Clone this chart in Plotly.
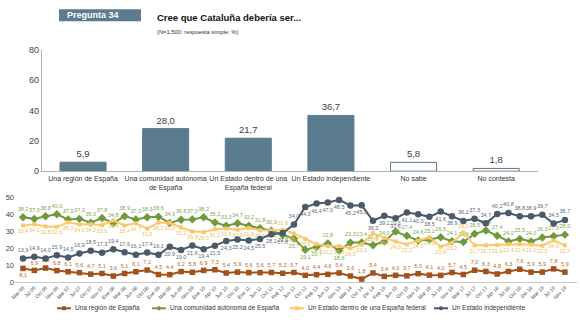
import plotly.graph_objects as go

# ---- Bar chart: current wave ----
bar_categories = [
    "Una región de España",
    "Una comunidad autónoma<br>de España",
    "Un Estado dentro de una<br>España federal",
    "Un Estado independiente",
    "No sabe",
    "No contesta",
]
bar_values = [5.9, 28.0, 21.7, 36.7, 5.8, 1.8]

# ---- Line chart: historical series ----
waves = [
    "Mar 06", "Jul 06", "Oct 06", "Nov 06", "Mar 07", "Jul 07", "Oct 07", "Nov 07",
    "Ene 08", "Mar 08", "Jun 08", "Oct 08", "Ene 09", "Mar 09", "Jun 09", "Nov 09",
    "Ene 10", "Abr 10", "Jun 10", "Oct 10", "Ene 11", "Jun 11", "Oct 11", "Feb 12",
    "Jun 12", "Oct 12", "Feb 13", "Jun 13", "Nov 13", "Mar 14", "Oct 14", "Dic 14",
    "Feb 15", "Jun 15", "Oct 15", "Nov 15", "Mar 16", "Jul 16", "Nov 16", "Mar 17",
    "Jul 17", "Oct 17", "Abr 18", "Jul 18", "Oct 18", "Dic 18", "Mar 19", "Jul 19",
    "Nov 19",
]
region = [8.1, 6.9, 8.3, 6.8, 6.1, 5.6, 4.7, 5.1, 3.6, 5.1, 6.1, 7.1, 4.5, 4.4, 6.2,
          5.8, 6.9, 7.3, 5.4, 5.9, 5.6, 5.6, 5.7, 5.2, 5.7, 4.0, 4.4, 4.6, 5.4, 3.6,
          1.8, 5.4, 3.4, 4.0, 3.7, 5.0, 4.1, 4.0, 5.7, 4.5, 7.0, 6.3, 4.8, 6.3, 7.6,
          5.9, 5.9, 7.8, 5.9]
autonomia = [38.2, 37.3, 38.8, 40.0, 37.0, 37.3, 35.0, 37.8, 34.8, 38.9, 37.0, 38.3,
             38.6, 34.9, 36.8, 37.0, 38.2, 35.2, 33.3, 34.7, 33.2, 31.8, 30.3, 27.8,
             25.7, 19.1, 20.7, 22.8, 18.6, 23.3, 23.4, 21.8, 24.0, 29.8, 27.4, 24.6,
             25.1, 26.5, 24.1, 23.6, 28.5, 30.4, 27.4, 24.0, 25.5, 24.0, 26.3, 27.0,
             28.0]
federal = [33.4, 34.1, 32.8, 32.6, 35.3, 34.0, 34.2, 33.6, 36.4, 33.4, 34.7, 31.6,
           35.2, 35.0, 32.2, 29.9, 29.5, 31.2, 31.6, 30.9, 31.9, 30.6, 30.4, 30.8,
           28.7, 25.5, 22.4, 21.2, 21.3, 20.0, 22.2, 28.9, 26.1, 24.0, 22.2, 24.5,
           26.3, 20.9, 23.2, 29.2, 21.7, 21.7, 21.9, 22.4, 22.4, 22.1, 21.5, 24.6,
           21.7]
independiente = [13.9, 14.9, 14.0, 15.9, 14.5, 16.9, 18.5, 17.3, 19.4, 17.6, 16.1,
                 17.4, 16.1, 20.9, 19.0, 21.6, 19.4, 21.5, 24.3, 25.2, 24.5, 25.5,
                 28.2, 29.0, 34.0, 44.3, 46.4, 47.0, 48.5, 45.2, 45.3, 36.2, 39.1,
                 37.6, 41.1, 40.0, 38.5, 41.6, 38.9, 36.1, 37.3, 34.7, 40.2, 40.8,
                 38.8, 38.9, 39.7, 34.5, 36.7]

FONT = "Liberation Sans, Arial, sans-serif"
SLATE = "#5b7b8e"
C_REG, C_AUT, C_FED, C_IND = "#a3501a", "#6f9a3b", "#fbc76a", "#4b5a6b"
T_REG, T_AUT, T_FED, T_IND = "#b8682f", "#7ea84e", "#f5bd55", "#5a6878"


def fmt(v):
    return f"{v:.1f}".replace(".", ",")


def positions(n, below):
    return ["bottom center" if i in below else "top center" for i in range(n)]


n = len(waves)
x_idx = list(range(n))

fig = go.Figure()

# bars
fig.add_trace(go.Bar(
    x=bar_categories, y=bar_values,
    text=[fmt(v) for v in bar_values], textposition="outside",
    textfont=dict(size=9.5, color="#404040", family=FONT),
    marker=dict(color=[SLATE] * 4 + ["white"] * 2,
                line=dict(color=SLATE, width=1)),
    width=0.557, cliponaxis=False, showlegend=False,
    xaxis="x", yaxis="y",
))

series = [
    ("Una región de España", region, C_REG, T_REG, "square", 5.5, {0}),
    ("Una comunidad autónoma de España", autonomia, C_AUT, T_AUT, "diamond", 6.5,
     {23, 24, 25, 26, 28}),
    ("Un Estado dentro de una España federal", federal, C_FED, T_FED, "square", 4,
     set(range(n)) - {23, 39}),
    ("Un Estado independiente", independiente, C_IND, T_IND, "circle", 6.5,
     set(range(13, 24)) | set(range(25, 39))),
]
for name, vals, col, tcol, sym, msize, below in series:
    fig.add_trace(go.Scatter(
        x=x_idx, y=vals, name=name, mode="lines+markers+text",
        line=dict(color=col, width=2),
        marker=dict(symbol=sym, size=msize, color=col),
        text=[fmt(v) for v in vals],
        textposition=positions(n, below),
        textfont=dict(size=5.5, color=tcol, family=FONT),
        cliponaxis=False, showlegend=False,
        xaxis="x2", yaxis="y2",
    ))

W, H = 580, 322


def px(x):
    return x / W


def py(y):
    return 1 - y / H


fig.update_layout(
    width=W, height=H, margin=dict(l=0, r=0, t=0, b=0),
    paper_bgcolor="white", plot_bgcolor="white",
    font=dict(family=FONT, color="#333333"),
    separators=",.",
    xaxis=dict(domain=[px(41.7), px(537.5)], range=[-0.5, 5.5],
               showline=True, linecolor="#b0b0b0", linewidth=1, ticks="",
               tickangle=0, automargin=False,
               tickfont=dict(size=7, color="#333333"), showgrid=False),
    yaxis=dict(domain=[py(171.5), py(46)], range=[0, 80], dtick=20,
               showline=True, linecolor="#b0b0b0", linewidth=1, showgrid=False,
               zeroline=False, tickfont=dict(size=9, color="#444444")),
    xaxis2=dict(domain=[px(15), px(577)], range=[-0.709, 49.07],
                tickmode="array", tickvals=x_idx, ticktext=waves, tickangle=-45,
                tickfont=dict(size=5, color="#444444"), automargin=False,
                showline=True, linecolor="#c8c8c8", linewidth=1, showgrid=False,
                ticks="", anchor="y2"),
    yaxis2=dict(domain=[py(286), py(198.5)], range=[0, 50], dtick=10,
                showgrid=False, zeroline=False, showline=False,
                tickfont=dict(size=7.5, color="#444444"), anchor="x2"),
    bargap=0.443,
)

# header
fig.add_shape(type="rect", xref="paper", yref="paper",
              x0=px(59), x1=px(141), y0=py(16.7), y1=py(4.3),
              fillcolor=SLATE, line=dict(width=0))
fig.add_annotation(text="<b>Pregunta 34</b>", xref="paper", yref="paper",
                   x=px(65), y=py(10.5), xanchor="left", yanchor="middle",
                   showarrow=False, font=dict(size=9, color="white", family=FONT))
fig.add_annotation(text="<b>Cree que Cataluña debería ser...</b>", xref="paper",
                   yref="paper", x=px(155), y=py(12.5), xanchor="left",
                   yanchor="middle", showarrow=False,
                   font=dict(size=9.5, color="#111111", family=FONT))
fig.add_annotation(text="(N=1.500; respuesta simple; %)", xref="paper",
                   yref="paper", x=px(155), y=py(28), xanchor="left",
                   yanchor="middle", showarrow=False,
                   font=dict(size=5.8, color="#333333", family=FONT))

# legend
legend_items = [
    (57, "Una región de España", C_REG, "square"),
    (152, "Una comunidad autónoma de España", C_AUT, "diamond"),
    (290, "Un Estado dentro de una España federal", C_FED, "square"),
    (434, "Un Estado independiente", C_IND, "circle"),
]
ly = 313
for x0, label, col, sym in legend_items:
    fig.add_shape(type="line", xref="paper", yref="paper",
                  x0=px(x0), x1=px(x0 + 14), y0=py(ly), y1=py(ly),
                  line=dict(color=col, width=2))
    cx = x0 + 7
    r = 2
    if sym == "circle":
        fig.add_shape(type="circle", xref="paper", yref="paper",
                      x0=px(cx - r), x1=px(cx + r), y0=py(ly + r), y1=py(ly - r),
                      fillcolor=col, line=dict(width=0))
    elif sym == "diamond":
        path = (f"M {px(cx)} {py(ly - 2.5)} L {px(cx + 2.5)} {py(ly)} "
                f"L {px(cx)} {py(ly + 2.5)} L {px(cx - 2.5)} {py(ly)} Z")
        fig.add_shape(type="path", xref="paper", yref="paper", path=path,
                      fillcolor=col, line=dict(width=0))
    else:
        fig.add_shape(type="rect", xref="paper", yref="paper",
                      x0=px(cx - r), x1=px(cx + r), y0=py(ly + r), y1=py(ly - r),
                      fillcolor=col, line=dict(width=0))
    fig.add_annotation(text=label, xref="paper", yref="paper",
                       x=px(x0 + 16), y=py(ly), xanchor="left", yanchor="middle",
                       showarrow=False,
                       font=dict(size=6.5, color="#333333", family=FONT))

fig.write_html("out.html")
